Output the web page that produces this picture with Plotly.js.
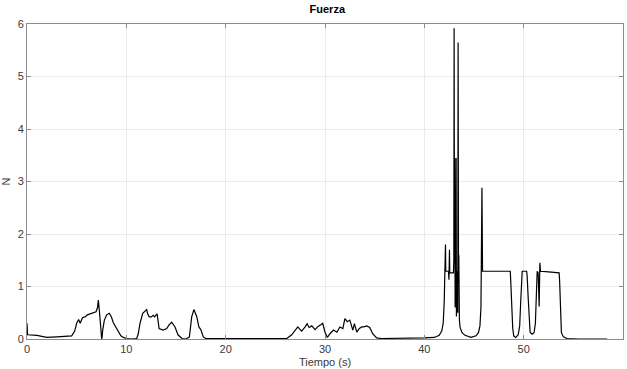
<!DOCTYPE html>
<html>
<head>
<meta charset="utf-8">
<script src="https://cdn.plot.ly/plotly-3.0.1.min.js"></script>
<style>html,body{margin:0;padding:0;background:#fff}#chart{width:627px;height:369px}</style>
</head>
<body>
<div id="chart"></div>
<script>
// Tiempo (s)
const tiempo = [
  0, 0.02, 0.06, 1.0, 2.0, 3.0, 4.0, 4.5, 4.8, 5.0, 5.2, 5.35, 5.6, 5.85, 6.07, 6.5, 6.95, 7.1, 7.18, 7.28, 7.45, 7.52, 7.57, 7.62, 7.79, 8.02, 8.29, 8.5, 8.69, 9.0, 9.19, 9.45, 9.7, 10.04,
  10.5, 11.05, 11.2, 11.38, 11.65, 11.95, 12.05, 12.15, 12.3, 12.5, 12.7, 12.85, 13.1, 13.3, 13.5, 13.7, 14.07, 14.3, 14.57, 14.9, 15.2, 15.6, 16.0,
  16.35, 16.58, 16.8, 17.1, 17.3, 17.5, 17.75, 18.0, 19.0, 20.0, 22.0, 24.0, 25.5,
  26.15, 26.65, 27.0, 27.26, 27.5, 27.65, 28.0, 28.2, 28.4, 28.67, 29.0, 29.3, 29.57, 29.77, 30.0, 30.24, 30.5, 30.85, 31.2, 31.5, 31.8, 32.0, 32.25, 32.5, 32.8, 32.96, 33.2, 33.46, 33.7, 33.9, 34.2, 34.5, 34.8, 35.2, 35.7,
  36.5, 38.0, 40.0, 41.0, 41.5, 41.75, 41.9, 42.0, 42.08, 42.13, 42.16, 42.43, 42.48, 42.53, 42.56, 42.6, 42.93, 42.97, 43.0, 43.03, 43.06, 43.1, 43.13, 43.16, 43.2, 43.23, 43.27, 43.3, 43.33, 43.37, 43.4, 43.44, 43.47, 43.53, 43.6, 43.8,
  44.1, 44.7, 45.2, 45.45, 45.6, 45.7, 45.8, 45.86, 47.0, 48.65, 48.7, 48.8, 48.9, 49.0, 49.2, 49.45, 49.6, 49.7, 49.78, 49.85, 50.3, 50.35, 50.45, 50.55, 50.65, 50.85, 51.05, 51.18, 51.28, 51.36, 51.46, 51.56, 51.63, 51.7, 52.5, 53.57, 53.62, 53.7, 53.8, 54.0, 54.35, 55.5, 58.4
];
// Fuerza (N)
const fuerza = [
  0.30, 0.08, 0.08, 0.07, 0.03, 0.04, 0.05, 0.06, 0.15, 0.30, 0.37, 0.30, 0.41, 0.42, 0.46, 0.49, 0.52, 0.60, 0.74, 0.55, 0.25, 0.0, 0.05, 0.17, 0.36, 0.46, 0.49, 0.42, 0.31, 0.2, 0.13, 0.06, 0.03, 0.01,
  0.0, 0.01, 0.1, 0.30, 0.49, 0.53, 0.56, 0.48, 0.42, 0.42, 0.45, 0.42, 0.48, 0.20, 0.18, 0.17, 0.2, 0.27, 0.32, 0.23, 0.08, 0.01, 0.0,
  0.04, 0.42, 0.56, 0.42, 0.23, 0.18, 0.04, 0.01, 0.01, 0.01, 0.01, 0.01, 0.01,
  0.01, 0.08, 0.17, 0.23, 0.18, 0.15, 0.23, 0.29, 0.22, 0.25, 0.18, 0.24, 0.27, 0.30, 0.13, 0.03, 0.1, 0.17, 0.13, 0.23, 0.2, 0.39, 0.33, 0.36, 0.17, 0.29, 0.13, 0.2, 0.23, 0.23, 0.25, 0.22, 0.1, 0.02, 0.01,
  0.01, 0.02, 0.02, 0.03, 0.07, 0.15, 0.3, 0.7, 1.3, 1.8, 1.29, 1.29, 1.13, 1.7, 1.26, 1.26, 1.26, 1.5, 5.92, 1.83, 3.45, 0.6, 2.8, 1.0, 3.45, 0.43, 1.9, 0.8, 1.3, 0.5, 5.65, 1.2, 1.6, 0.36, 0.22, 0.12,
  0.07, 0.03, 0.06, 0.12, 0.25, 0.6, 2.88, 1.29, 1.29, 1.29, 1.1, 0.6, 0.2, 0.06, 0.03, 0.08, 0.25, 0.7, 1.2, 1.29, 1.29, 1.2, 0.8, 0.3, 0.13, 0.09, 0.12, 0.3, 0.9, 1.29, 1.26, 0.62, 1.45, 1.29, 1.28, 1.26, 1.1, 0.5, 0.12, 0.04, 0.01, 0.0, 0.0
];
const xTicks = [0, 10, 20, 30, 40, 50, 60];
const yTicks = [0, 1, 2, 3, 4, 5, 6];

const axisCommon = {
  showline: true, linecolor: '#8c8c8c', linewidth: 1, mirror: 'ticks',
  ticks: 'inside', ticklen: 4, tickcolor: '#8c8c8c', tickwidth: 1,
  showgrid: true, gridcolor: '#ebebeb', gridwidth: 1, zeroline: false,
  tickfont: {family: 'Liberation Sans, Arial, sans-serif', size: 11, color: '#3a3a3a'},
  automargin: false
};

Plotly.newPlot('chart', [{
  x: tiempo, y: fuerza, type: 'scatter', mode: 'lines',
  line: {color: '#000000', width: 1.2}, hoverinfo: 'skip'
}], {
  width: 627, height: 369,
  margin: {l: 27, r: 4, t: 24, b: 30},
  paper_bgcolor: '#ffffff', plot_bgcolor: '#ffffff',
  showlegend: false,
  title: {text: '<b>Fuerza</b>', x: 0.522, xanchor: 'center', y: 0.975, yanchor: 'middle',
    font: {family: 'Liberation Sans, Arial, sans-serif', size: 11, color: '#000'}},
  xaxis: Object.assign({}, axisCommon, {
    range: [0, 60], tickvals: xTicks, ticktext: xTicks.map(String),
    title: {text: 'Tiempo (s)', standoff: 4, font: {family: 'Liberation Sans, Arial, sans-serif', size: 11, color: '#3a3a3a'}}
  }),
  yaxis: Object.assign({}, axisCommon, {
    range: [0, 6], tickvals: yTicks, ticktext: yTicks.map(String),
    title: {text: 'N', standoff: 4, font: {family: 'Liberation Sans, Arial, sans-serif', size: 11, color: '#3a3a3a'}}
  })
}, {staticPlot: true, displayModeBar: false});
</script>
</body>
</html>
